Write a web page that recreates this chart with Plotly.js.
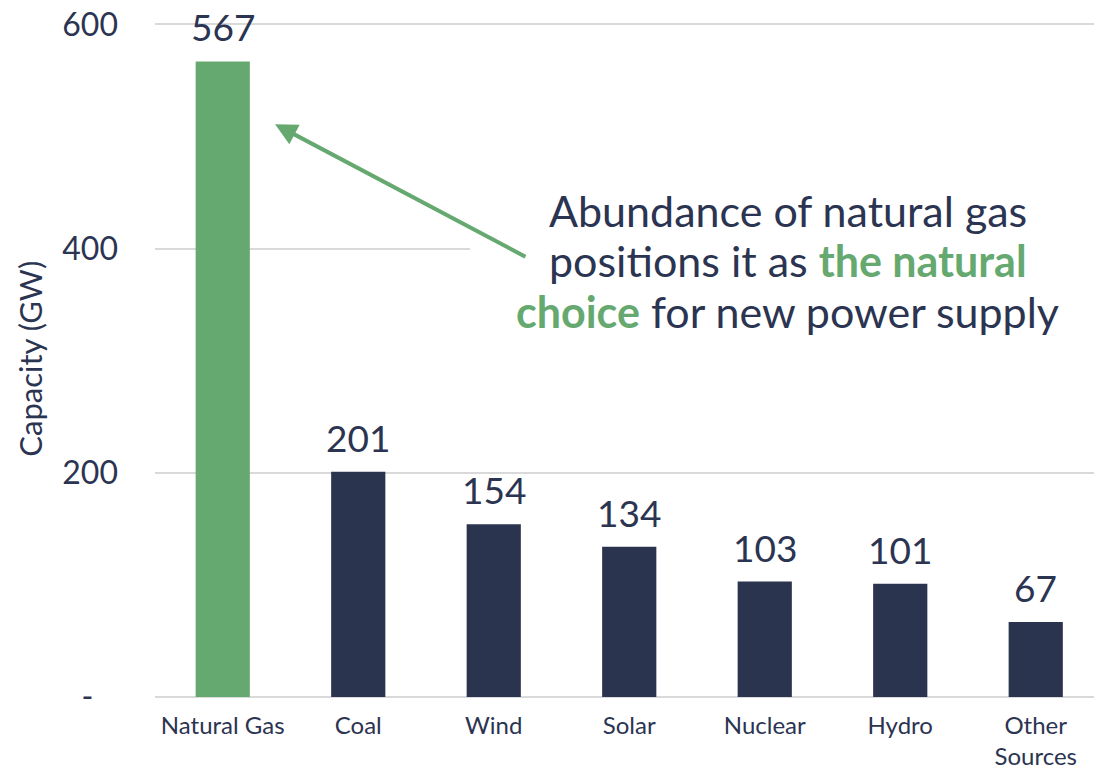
<!DOCTYPE html>
<html>
<head>
<meta charset="utf-8">
<script src="https://cdn.plot.ly/plotly-3.0.1.min.js"></script>
<style>html,body{margin:0;padding:0;background:#fff;overflow:hidden}#chart{width:1094px;height:769px}</style>
</head>
<body>
<div id="chart"></div>
<script>
const categories = ["Natural Gas", "Coal", "Wind", "Solar", "Nuclear", "Hydro", "Other<br>Sources"];
const capacityGW = [567, 201, 154, 134, 103, 101, 67];
const barColors = ["#66A970", "#2B344F", "#2B344F", "#2B344F", "#2B344F", "#2B344F", "#2B344F"];
const yTickVals = [0, 200, 400, 600];
const yTickText = ["-\u00a0\u00a0\u00a0", "200", "400", "600"];

const navy = "#2B3451";
const green = "#66A970";

const calloutLines = [
  "Abundance of natural gas",
  "positions it as <span style='color:" + green + "'><b>the natural</b></span>",
  "<span style='color:" + green + "'><b>choice</b></span> for new power supply"
];
const calloutLineY = [434, 389, 344];

const trace = {
  type: "bar",
  x: categories,
  y: capacityGW,
  marker: {color: barColors},
  width: 0.4,
  hoverinfo: "none"
};

const labelAnnotations = categories.map((c, i) => ({
  xref: "x", yref: "y",
  x: c, y: capacityGW[i],
  text: String(capacityGW[i]),
  showarrow: false,
  xanchor: "center", yanchor: "bottom",
  yshift: 10,
  font: {family: "Lato", size: 37, color: navy}
}));

const calloutAnnotations = calloutLines.map((t, i) => ({
  xref: "paper", yref: "y",
  x: 0.674, y: calloutLineY[i],
  xanchor: "center", yanchor: "middle",
  text: t,
  showarrow: false,
  align: "center",
  font: {family: "Lato", size: 43, color: navy}
}));

const layout = {
  width: 1094,
  height: 769,
  margin: {l: 155, r: 0, t: 2, b: 72},
  paper_bgcolor: "#fff",
  plot_bgcolor: "#fff",
  font: {family: "Lato", color: navy},
  showlegend: false,
  xaxis: {
    type: "category",
    range: [-0.5, 6.43],
    showgrid: false,
    showline: false,
    ticks: "",
    tickfont: {family: "Lato", size: 24, color: navy},
    ticklabelstandoff: 12,
    fixedrange: true
  },
  yaxis: {
    range: [0, 620],
    tickvals: yTickVals,
    ticktext: yTickText,
    tickfont: {family: "Lato", size: 32, color: navy},
    showgrid: true,
    gridcolor: "#D9D9D9",
    gridwidth: 2,
    zeroline: true,
    zerolinecolor: "#D9D9D9",
    zerolinewidth: 2,
    showline: false,
    ticks: "",
    ticklabelstandoff: 36,
    fixedrange: true
  },
  shapes: [
    {
      type: "rect", layer: "above",
      xref: "paper", yref: "y",
      x0: 0.3355, x1: 1.0, y0: 318, y1: 468,
      fillcolor: "#ffffff", line: {width: 0}
    }
  ],
  annotations: labelAnnotations.concat(calloutAnnotations, [
    {
      xref: "paper", yref: "paper",
      x: -0.134, y: 0.487,
      text: "Capacity (GW)",
      textangle: -90,
      showarrow: false,
      font: {family: "Lato", size: 31, color: navy},
      xanchor: "center", yanchor: "middle"
    },
    {
      xref: "x", yref: "y",
      x: 0.386, y: 511,
      axref: "x", ayref: "y",
      ax: 2.245, ay: 392,
      text: "",
      showarrow: true,
      arrowhead: 2,
      arrowsize: 1.1,
      arrowwidth: 4,
      arrowcolor: green
    }
  ])
};

Plotly.newPlot("chart", [trace], layout, {displayModeBar: false, staticPlot: true});
</script>
</body>
</html>
